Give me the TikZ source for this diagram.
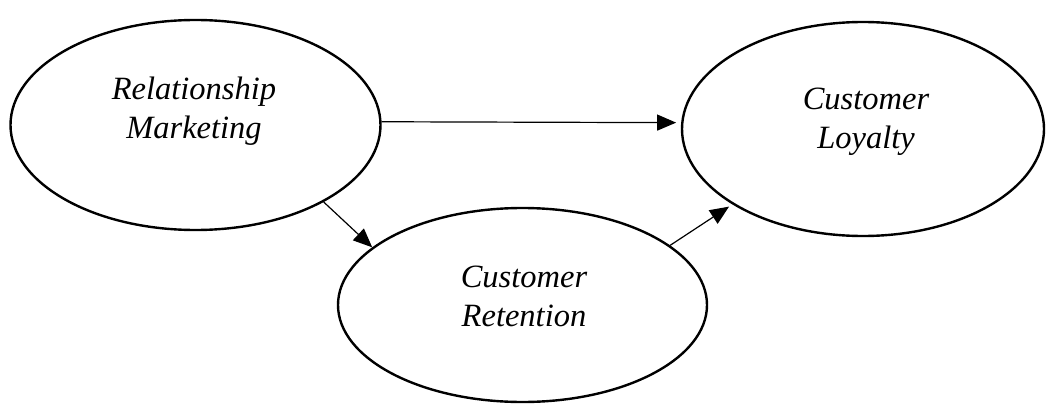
\documentclass[tikz,border=0pt]{standalone}
\usepackage{fontspec}
\setmainfont{Liberation Serif}
\usetikzlibrary{shapes.geometric,arrows.meta}
\begin{document}
\begin{tikzpicture}[x=1pt,y=-1pt,
  construct/.style={draw,ellipse,line width=2.4pt,inner sep=0pt},
  label/.style={align=center,font=\fontsize{32.5}{39}\selectfont\itshape},
  arr/.style={line width=1.2pt,-{Triangle[length=19pt,width=16pt]}}]
  \useasboundingbox (0,0) rectangle (1046,404);
  % constructs
  \node[construct,minimum width=370pt,minimum height=210pt] (rm) at (195.5,125) {};
  \node[construct,minimum width=362pt,minimum height=214pt] (cl) at (863,129) {};
  \node[construct,minimum width=369pt,minimum height=194pt] (cr) at (522.5,305) {};
  % construct names
  \node[label] (rmt) at (194,111.5) {Relationship\\Marketing};
  \node[label] (clt) at (866,121.5) {Customer\\Loyalty};
  \node[label] (crt) at (524,296.5) {Customer\\Retention};
  % paths
  \draw[arr,shorten >=5pt] (rm.1.5) -- (cl.178.2);
  \draw[arr] (rm.-31) -- (cr.159);
  \draw[arr,shorten >=4pt] (cr.22.5) -- (cl.-150.2);
\end{tikzpicture}
\end{document}
